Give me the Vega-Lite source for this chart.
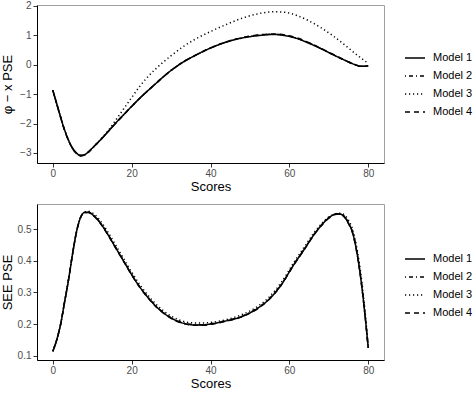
{
  "$schema": "https://vega.github.io/schema/vega-lite/v6.json",
  "padding": {"left": 0, "top": 0, "right": 0, "bottom": 0},
  "bounds": "flush",
  "spacing": 41,
  "config": {
    "font": "Liberation Sans",
    "view": {"stroke": "#a0a0a0", "strokeWidth": 1},
    "axis": {
      "grid": false,
      "domainColor": "#000000",
      "domainWidth": 1,
      "tickColor": "#333333",
      "tickSize": 4,
      "labelColor": "#4d4d4d",
      "labelFontSize": 10,
      "labelPadding": 2,
      "titleFontSize": 13,
      "titleFontWeight": "normal",
      "titleColor": "#000000"
    },
    "axisY": {"minExtent": 19, "maxExtent": 19, "titlePadding": 4},
    "axisX": {"labelPadding": 1, "titlePadding": 2},
    "legend": {
      "orient": "none",
      "title": null,
      "symbolType": "stroke",
      "symbolSize": 400,
      "symbolStrokeColor": "#000000",
      "symbolStrokeWidth": 1.4,
      "labelFontSize": 11,
      "labelColor": "#000000",
      "labelOffset": 7,
      "rowPadding": 2
    }
  },
  "resolve": {"scale": {"strokeDash": "independent"}, "legend": {"strokeDash": "independent"}},
  "datasets": {
    "pse": [
      {"m":"Model 1","s":0,"v":-0.87},{"m":"Model 1","s":1,"v":-1.33},{"m":"Model 1","s":2,"v":-1.79},{"m":"Model 1","s":3,"v":-2.22},{"m":"Model 1","s":4,"v":-2.57},{"m":"Model 1","s":5,"v":-2.83},{"m":"Model 1","s":6,"v":-3.0},{"m":"Model 1","s":7,"v":-3.08},{"m":"Model 1","s":8,"v":-3.06},{"m":"Model 1","s":9,"v":-2.97},{"m":"Model 1","s":10,"v":-2.84},{"m":"Model 1","s":12,"v":-2.57},{"m":"Model 1","s":14,"v":-2.28},{"m":"Model 1","s":16,"v":-1.98},{"m":"Model 1","s":18,"v":-1.7},{"m":"Model 1","s":20,"v":-1.42},{"m":"Model 1","s":22,"v":-1.15},{"m":"Model 1","s":24,"v":-0.9},{"m":"Model 1","s":26,"v":-0.66},{"m":"Model 1","s":28,"v":-0.42},{"m":"Model 1","s":30,"v":-0.2},{"m":"Model 1","s":33,"v":0.08},{"m":"Model 1","s":36,"v":0.3},{"m":"Model 1","s":40,"v":0.56},{"m":"Model 1","s":44,"v":0.76},{"m":"Model 1","s":48,"v":0.9},{"m":"Model 1","s":52,"v":0.98},{"m":"Model 1","s":56,"v":1.02},{"m":"Model 1","s":59,"v":0.98},{"m":"Model 1","s":62,"v":0.88},{"m":"Model 1","s":65,"v":0.72},{"m":"Model 1","s":68,"v":0.54},{"m":"Model 1","s":71,"v":0.34},{"m":"Model 1","s":74,"v":0.15},{"m":"Model 1","s":77,"v":-0.02},{"m":"Model 1","s":78,"v":-0.06},{"m":"Model 1","s":79,"v":-0.06},{"m":"Model 1","s":80,"v":-0.04},
      {"m":"Model 2","s":0,"v":-0.87},{"m":"Model 2","s":1,"v":-1.33},{"m":"Model 2","s":2,"v":-1.79},{"m":"Model 2","s":3,"v":-2.22},{"m":"Model 2","s":4,"v":-2.57},{"m":"Model 2","s":5,"v":-2.84},{"m":"Model 2","s":6,"v":-3.01},{"m":"Model 2","s":7,"v":-3.09},{"m":"Model 2","s":8,"v":-3.07},{"m":"Model 2","s":9,"v":-2.97},{"m":"Model 2","s":10,"v":-2.84},{"m":"Model 2","s":12,"v":-2.57},{"m":"Model 2","s":14,"v":-2.28},{"m":"Model 2","s":16,"v":-1.98},{"m":"Model 2","s":18,"v":-1.7},{"m":"Model 2","s":20,"v":-1.42},{"m":"Model 2","s":22,"v":-1.15},{"m":"Model 2","s":24,"v":-0.9},{"m":"Model 2","s":26,"v":-0.66},{"m":"Model 2","s":28,"v":-0.42},{"m":"Model 2","s":30,"v":-0.2},{"m":"Model 2","s":33,"v":0.08},{"m":"Model 2","s":36,"v":0.3},{"m":"Model 2","s":40,"v":0.56},{"m":"Model 2","s":44,"v":0.77},{"m":"Model 2","s":48,"v":0.91},{"m":"Model 2","s":52,"v":0.99},{"m":"Model 2","s":56,"v":1.03},{"m":"Model 2","s":59,"v":0.99},{"m":"Model 2","s":62,"v":0.89},{"m":"Model 2","s":65,"v":0.73},{"m":"Model 2","s":68,"v":0.54},{"m":"Model 2","s":71,"v":0.34},{"m":"Model 2","s":74,"v":0.15},{"m":"Model 2","s":77,"v":-0.02},{"m":"Model 2","s":78,"v":-0.06},{"m":"Model 2","s":79,"v":-0.06},{"m":"Model 2","s":80,"v":-0.04},
      {"m":"Model 3","s":0,"v":-0.87},{"m":"Model 3","s":1,"v":-1.33},{"m":"Model 3","s":2,"v":-1.79},{"m":"Model 3","s":3,"v":-2.22},{"m":"Model 3","s":4,"v":-2.57},{"m":"Model 3","s":5,"v":-2.83},{"m":"Model 3","s":6,"v":-3.0},{"m":"Model 3","s":7,"v":-3.08},{"m":"Model 3","s":8,"v":-3.06},{"m":"Model 3","s":9,"v":-2.97},{"m":"Model 3","s":10,"v":-2.84},{"m":"Model 3","s":12,"v":-2.56},{"m":"Model 3","s":14,"v":-2.25},{"m":"Model 3","s":16,"v":-1.88},{"m":"Model 3","s":18,"v":-1.5},{"m":"Model 3","s":20,"v":-1.12},{"m":"Model 3","s":22,"v":-0.75},{"m":"Model 3","s":24,"v":-0.43},{"m":"Model 3","s":26,"v":-0.16},{"m":"Model 3","s":28,"v":0.08},{"m":"Model 3","s":30,"v":0.3},{"m":"Model 3","s":33,"v":0.6},{"m":"Model 3","s":36,"v":0.85},{"m":"Model 3","s":40,"v":1.12},{"m":"Model 3","s":44,"v":1.36},{"m":"Model 3","s":48,"v":1.57},{"m":"Model 3","s":52,"v":1.72},{"m":"Model 3","s":56,"v":1.79},{"m":"Model 3","s":59,"v":1.77},{"m":"Model 3","s":62,"v":1.66},{"m":"Model 3","s":65,"v":1.48},{"m":"Model 3","s":68,"v":1.25},{"m":"Model 3","s":71,"v":0.98},{"m":"Model 3","s":74,"v":0.67},{"m":"Model 3","s":77,"v":0.34},{"m":"Model 3","s":78,"v":0.24},{"m":"Model 3","s":79,"v":0.14},{"m":"Model 3","s":80,"v":0.04},
      {"m":"Model 4","s":0,"v":-0.87},{"m":"Model 4","s":1,"v":-1.33},{"m":"Model 4","s":2,"v":-1.8},{"m":"Model 4","s":3,"v":-2.23},{"m":"Model 4","s":4,"v":-2.58},{"m":"Model 4","s":5,"v":-2.85},{"m":"Model 4","s":6,"v":-3.02},{"m":"Model 4","s":7,"v":-3.1},{"m":"Model 4","s":8,"v":-3.07},{"m":"Model 4","s":9,"v":-2.98},{"m":"Model 4","s":10,"v":-2.84},{"m":"Model 4","s":12,"v":-2.57},{"m":"Model 4","s":14,"v":-2.28},{"m":"Model 4","s":16,"v":-1.98},{"m":"Model 4","s":18,"v":-1.7},{"m":"Model 4","s":20,"v":-1.42},{"m":"Model 4","s":22,"v":-1.15},{"m":"Model 4","s":24,"v":-0.9},{"m":"Model 4","s":26,"v":-0.66},{"m":"Model 4","s":28,"v":-0.42},{"m":"Model 4","s":30,"v":-0.2},{"m":"Model 4","s":33,"v":0.08},{"m":"Model 4","s":36,"v":0.3},{"m":"Model 4","s":40,"v":0.56},{"m":"Model 4","s":44,"v":0.77},{"m":"Model 4","s":48,"v":0.91},{"m":"Model 4","s":52,"v":1.0},{"m":"Model 4","s":56,"v":1.04},{"m":"Model 4","s":59,"v":1.0},{"m":"Model 4","s":62,"v":0.9},{"m":"Model 4","s":65,"v":0.74},{"m":"Model 4","s":68,"v":0.55},{"m":"Model 4","s":71,"v":0.35},{"m":"Model 4","s":74,"v":0.15},{"m":"Model 4","s":77,"v":-0.02},{"m":"Model 4","s":78,"v":-0.06},{"m":"Model 4","s":79,"v":-0.06},{"m":"Model 4","s":80,"v":-0.04}
    ],
    "see": [
      {"m":"Model 1","s":0,"v":0.114},{"m":"Model 1","s":1,"v":0.15},{"m":"Model 1","s":2,"v":0.2},{"m":"Model 1","s":3,"v":0.27},{"m":"Model 1","s":4,"v":0.34},{"m":"Model 1","s":5,"v":0.42},{"m":"Model 1","s":6,"v":0.49},{"m":"Model 1","s":7,"v":0.535},{"m":"Model 1","s":8,"v":0.552},{"m":"Model 1","s":9,"v":0.553},{"m":"Model 1","s":10,"v":0.546},{"m":"Model 1","s":12,"v":0.52},{"m":"Model 1","s":14,"v":0.482},{"m":"Model 1","s":16,"v":0.44},{"m":"Model 1","s":18,"v":0.398},{"m":"Model 1","s":20,"v":0.356},{"m":"Model 1","s":22,"v":0.318},{"m":"Model 1","s":24,"v":0.286},{"m":"Model 1","s":26,"v":0.258},{"m":"Model 1","s":28,"v":0.236},{"m":"Model 1","s":30,"v":0.219},{"m":"Model 1","s":32,"v":0.207},{"m":"Model 1","s":34,"v":0.2},{"m":"Model 1","s":36,"v":0.197},{"m":"Model 1","s":38,"v":0.197},{"m":"Model 1","s":40,"v":0.2},{"m":"Model 1","s":44,"v":0.21},{"m":"Model 1","s":48,"v":0.224},{"m":"Model 1","s":52,"v":0.25},{"m":"Model 1","s":55,"v":0.28},{"m":"Model 1","s":58,"v":0.325},{"m":"Model 1","s":61,"v":0.385},{"m":"Model 1","s":64,"v":0.44},{"m":"Model 1","s":66,"v":0.478},{"m":"Model 1","s":68,"v":0.51},{"m":"Model 1","s":70,"v":0.535},{"m":"Model 1","s":72,"v":0.548},{"m":"Model 1","s":73,"v":0.547},{"m":"Model 1","s":74,"v":0.538},{"m":"Model 1","s":75,"v":0.518},{"m":"Model 1","s":76,"v":0.49},{"m":"Model 1","s":77,"v":0.435},{"m":"Model 1","s":78,"v":0.355},{"m":"Model 1","s":79,"v":0.25},{"m":"Model 1","s":80,"v":0.125},
      {"m":"Model 2","s":0,"v":0.114},{"m":"Model 2","s":1,"v":0.15},{"m":"Model 2","s":2,"v":0.2},{"m":"Model 2","s":3,"v":0.27},{"m":"Model 2","s":4,"v":0.34},{"m":"Model 2","s":5,"v":0.42},{"m":"Model 2","s":6,"v":0.49},{"m":"Model 2","s":7,"v":0.535},{"m":"Model 2","s":8,"v":0.552},{"m":"Model 2","s":9,"v":0.554},{"m":"Model 2","s":10,"v":0.547},{"m":"Model 2","s":12,"v":0.521},{"m":"Model 2","s":14,"v":0.483},{"m":"Model 2","s":16,"v":0.441},{"m":"Model 2","s":18,"v":0.399},{"m":"Model 2","s":20,"v":0.357},{"m":"Model 2","s":22,"v":0.319},{"m":"Model 2","s":24,"v":0.287},{"m":"Model 2","s":26,"v":0.259},{"m":"Model 2","s":28,"v":0.237},{"m":"Model 2","s":30,"v":0.22},{"m":"Model 2","s":32,"v":0.208},{"m":"Model 2","s":34,"v":0.201},{"m":"Model 2","s":36,"v":0.198},{"m":"Model 2","s":38,"v":0.198},{"m":"Model 2","s":40,"v":0.201},{"m":"Model 2","s":44,"v":0.211},{"m":"Model 2","s":48,"v":0.225},{"m":"Model 2","s":52,"v":0.251},{"m":"Model 2","s":55,"v":0.281},{"m":"Model 2","s":58,"v":0.326},{"m":"Model 2","s":61,"v":0.386},{"m":"Model 2","s":64,"v":0.441},{"m":"Model 2","s":66,"v":0.479},{"m":"Model 2","s":68,"v":0.511},{"m":"Model 2","s":70,"v":0.536},{"m":"Model 2","s":72,"v":0.548},{"m":"Model 2","s":73,"v":0.547},{"m":"Model 2","s":74,"v":0.539},{"m":"Model 2","s":75,"v":0.519},{"m":"Model 2","s":76,"v":0.491},{"m":"Model 2","s":77,"v":0.436},{"m":"Model 2","s":78,"v":0.356},{"m":"Model 2","s":79,"v":0.251},{"m":"Model 2","s":80,"v":0.125},
      {"m":"Model 3","s":0,"v":0.114},{"m":"Model 3","s":1,"v":0.15},{"m":"Model 3","s":2,"v":0.2},{"m":"Model 3","s":3,"v":0.27},{"m":"Model 3","s":4,"v":0.34},{"m":"Model 3","s":5,"v":0.42},{"m":"Model 3","s":6,"v":0.49},{"m":"Model 3","s":7,"v":0.535},{"m":"Model 3","s":8,"v":0.553},{"m":"Model 3","s":9,"v":0.556},{"m":"Model 3","s":10,"v":0.551},{"m":"Model 3","s":12,"v":0.527},{"m":"Model 3","s":14,"v":0.49},{"m":"Model 3","s":16,"v":0.448},{"m":"Model 3","s":18,"v":0.406},{"m":"Model 3","s":20,"v":0.364},{"m":"Model 3","s":22,"v":0.326},{"m":"Model 3","s":24,"v":0.293},{"m":"Model 3","s":26,"v":0.265},{"m":"Model 3","s":28,"v":0.242},{"m":"Model 3","s":30,"v":0.225},{"m":"Model 3","s":32,"v":0.213},{"m":"Model 3","s":34,"v":0.206},{"m":"Model 3","s":36,"v":0.203},{"m":"Model 3","s":38,"v":0.203},{"m":"Model 3","s":40,"v":0.205},{"m":"Model 3","s":44,"v":0.214},{"m":"Model 3","s":48,"v":0.23},{"m":"Model 3","s":52,"v":0.256},{"m":"Model 3","s":55,"v":0.287},{"m":"Model 3","s":58,"v":0.332},{"m":"Model 3","s":61,"v":0.392},{"m":"Model 3","s":64,"v":0.447},{"m":"Model 3","s":66,"v":0.484},{"m":"Model 3","s":68,"v":0.515},{"m":"Model 3","s":70,"v":0.538},{"m":"Model 3","s":72,"v":0.549},{"m":"Model 3","s":73,"v":0.55},{"m":"Model 3","s":74,"v":0.544},{"m":"Model 3","s":75,"v":0.528},{"m":"Model 3","s":76,"v":0.5},{"m":"Model 3","s":77,"v":0.448},{"m":"Model 3","s":78,"v":0.37},{"m":"Model 3","s":79,"v":0.265},{"m":"Model 3","s":80,"v":0.13},
      {"m":"Model 4","s":0,"v":0.114},{"m":"Model 4","s":1,"v":0.15},{"m":"Model 4","s":2,"v":0.2},{"m":"Model 4","s":3,"v":0.27},{"m":"Model 4","s":4,"v":0.34},{"m":"Model 4","s":5,"v":0.42},{"m":"Model 4","s":6,"v":0.49},{"m":"Model 4","s":7,"v":0.535},{"m":"Model 4","s":8,"v":0.551},{"m":"Model 4","s":9,"v":0.552},{"m":"Model 4","s":10,"v":0.545},{"m":"Model 4","s":12,"v":0.519},{"m":"Model 4","s":14,"v":0.481},{"m":"Model 4","s":16,"v":0.439},{"m":"Model 4","s":18,"v":0.397},{"m":"Model 4","s":20,"v":0.355},{"m":"Model 4","s":22,"v":0.317},{"m":"Model 4","s":24,"v":0.285},{"m":"Model 4","s":26,"v":0.257},{"m":"Model 4","s":28,"v":0.235},{"m":"Model 4","s":30,"v":0.218},{"m":"Model 4","s":32,"v":0.206},{"m":"Model 4","s":34,"v":0.199},{"m":"Model 4","s":36,"v":0.196},{"m":"Model 4","s":38,"v":0.196},{"m":"Model 4","s":40,"v":0.199},{"m":"Model 4","s":44,"v":0.209},{"m":"Model 4","s":48,"v":0.223},{"m":"Model 4","s":52,"v":0.249},{"m":"Model 4","s":55,"v":0.279},{"m":"Model 4","s":58,"v":0.324},{"m":"Model 4","s":61,"v":0.384},{"m":"Model 4","s":64,"v":0.439},{"m":"Model 4","s":66,"v":0.477},{"m":"Model 4","s":68,"v":0.509},{"m":"Model 4","s":70,"v":0.534},{"m":"Model 4","s":72,"v":0.547},{"m":"Model 4","s":73,"v":0.546},{"m":"Model 4","s":74,"v":0.537},{"m":"Model 4","s":75,"v":0.517},{"m":"Model 4","s":76,"v":0.489},{"m":"Model 4","s":77,"v":0.434},{"m":"Model 4","s":78,"v":0.354},{"m":"Model 4","s":79,"v":0.249},{"m":"Model 4","s":80,"v":0.125}
    ]
  },
  "vconcat": [
    {
      "width": 347,
      "height": 158,
      "data": {"name": "pse"},
      "mark": {"type": "line", "interpolate": "monotone", "color": "#000000", "strokeWidth": 1.5},
      "encoding": {
        "x": {"field": "s", "type": "quantitative", "scale": {"domain": [-4, 84], "nice": false, "zero": false}, "axis": {"values": [0, 20, 40, 60, 80], "title": "Scores"}},
        "y": {"field": "v", "type": "quantitative", "scale": {"domain": [-3.34, 2.02], "nice": false, "zero": false}, "axis": {"values": [-3, -2, -1, 0, 1, 2], "title": "φ − x   PSE"}},
        "strokeDash": {"field": "m", "type": "nominal", "scale": {"domain": ["Model 1", "Model 2", "Model 3", "Model 4"], "range": [[1, 0], [1, 3, 4, 3], [1.2, 2.8], [5, 4]]}, "legend": {"legendX": 367, "legendY": 42}}
      }
    },
    {
      "width": 347,
      "height": 156,
      "data": {"name": "see"},
      "mark": {"type": "line", "interpolate": "monotone", "color": "#000000", "strokeWidth": 1.5},
      "encoding": {
        "x": {"field": "s", "type": "quantitative", "scale": {"domain": [-4, 84], "nice": false, "zero": false}, "axis": {"values": [0, 20, 40, 60, 80], "title": "Scores"}},
        "y": {"field": "v", "type": "quantitative", "scale": {"domain": [0.0865, 0.579], "nice": false, "zero": false}, "axis": {"values": [0.1, 0.2, 0.3, 0.4, 0.5], "format": ".1f", "title": "SEE PSE"}},
        "strokeDash": {"field": "m", "type": "nominal", "scale": {"domain": ["Model 1", "Model 2", "Model 3", "Model 4"], "range": [[1, 0], [1, 3, 4, 3], [1.2, 2.8], [5, 4]]}, "legend": {"legendX": 367, "legendY": 44}}
      }
    }
  ]
}
